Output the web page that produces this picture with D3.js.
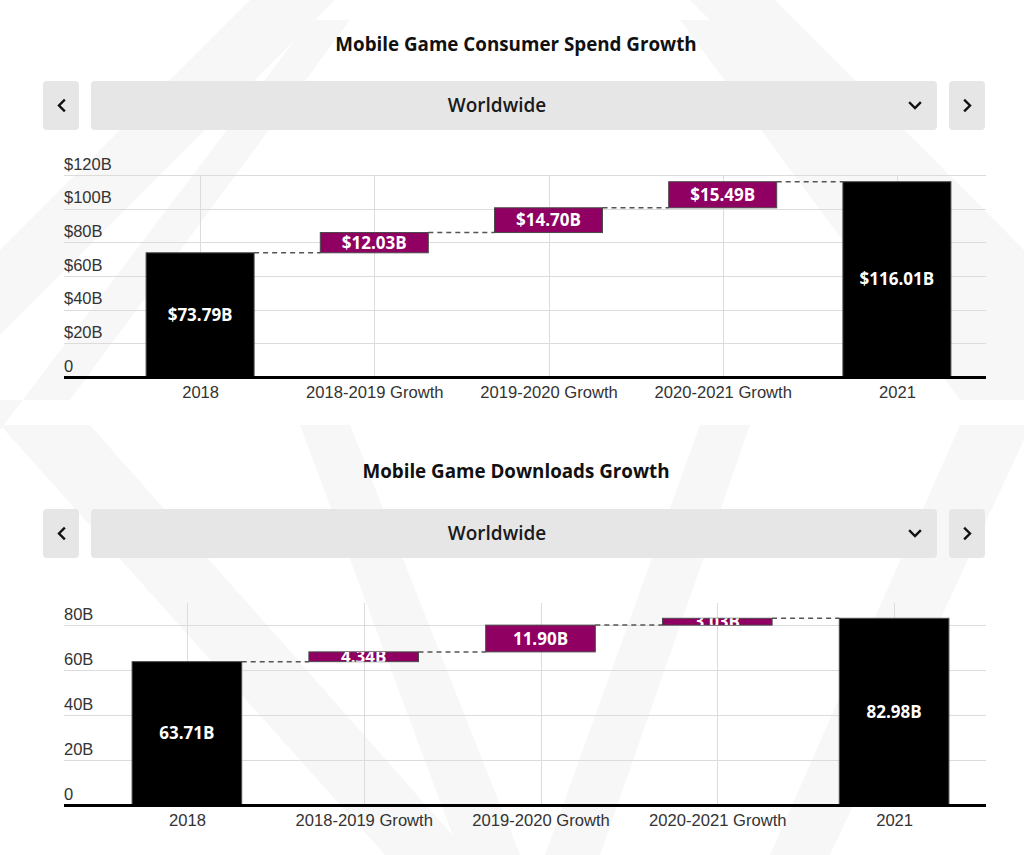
<!DOCTYPE html>
<html lang="en">
<head>
<meta charset="UTF-8">
<title>Mobile Game Growth</title>
<style>
  html, body { margin: 0; padding: 0; background: #fff; }
  svg { display: block; font-family: "Open Sans", Lato, sans-serif; }
  .axis .domain { display: none; }
  .grid line { stroke: #dcdcdc; shape-rendering: crispEdges; }
  .ylab text { fill: #333; font-size: 16.5px; }
  .xlab text { fill: #333; font-size: 16.6px; }
  .title { font-size: 18.8px; font-weight: 700; fill: #111; text-anchor: middle; }
  .region { font-size: 19px; font-weight: 600; fill: #1a1a1a; text-anchor: middle; }
  .btn { fill: #e6e6e6; }
  .barLabel { fill: #fff; font-size: 17px; font-weight: 700; text-anchor: middle; }
</style>
</head>
<body>
<div id="chart"></div>
<script src="https://d3js.org/d3.v7.min.js"></script>
<script>
// data
var categories = ["2018", "2018-2019 Growth", "2019-2020 Growth", "2020-2021 Growth", "2021"];
var barKinds = ["total", "delta", "delta", "delta", "total"];
var spendValues = [73.79, 12.03, 14.70, 15.49, 116.01];
var downloadValues = [63.71, 4.34, 11.90, 3.03, 82.98];
var spendTicks = [0, 20, 40, 60, 80, 100, 120];
var downloadTicks = [0, 20, 40, 60, 80];
var spendTitle = "Mobile Game Consumer Spend Growth";
var downloadTitle = "Mobile Game Downloads Growth";
var regionName = "Worldwide";

var width = 1024, height = 855;
var purple = "#8f0062";

var svg = d3.select("#chart").append("svg")
    .attr("width", width)
    .attr("height", height);

// faint logo watermark in the background
var wm = svg.append("g").attr("fill", "#f7f7f7");
var shapes = [
    [[0, 250], [250, 0], [335, 0], [0, 335]],
    [[0, 430], [310, 20], [350, 20], [70, 400], [0, 400]],
    [[690, 0], [775, 0], [1024, 250], [1024, 335]],
    [[680, 20], [720, 20], [1024, 330], [1024, 400], [960, 400]],
    [[0, 425], [90, 425], [470, 855], [385, 855]],
    [[300, 425], [350, 425], [520, 855], [460, 855]],
    [[700, 425], [750, 425], [600, 855], [545, 855]],
    [[960, 425], [1024, 425], [1024, 440], [830, 855], [770, 855]]
];
wm.selectAll("polygon").data(shapes).enter().append("polygon")
    .attr("points", function(d) { return d.map(function(p) { return p.join(","); }).join(" "); });

function drawWaterfall(cfg) {
    var g = svg.append("g");

    // title
    g.append("text").attr("class", "title")
        .attr("x", 516).attr("y", cfg.titleY).attr("dy", "0.35em")
        .text(cfg.title);

    // selector row
    var cy = cfg.ctrlY, ch = 49;
    g.append("rect").attr("class", "btn").attr("x", 43).attr("y", cy).attr("width", 36).attr("height", ch).attr("rx", 4);
    g.append("rect").attr("class", "btn").attr("x", 91).attr("y", cy).attr("width", 846).attr("height", ch).attr("rx", 4);
    g.append("rect").attr("class", "btn").attr("x", 949).attr("y", cy).attr("width", 36).attr("height", ch).attr("rx", 4);
    g.append("text").attr("class", "region")
        .attr("x", 497).attr("y", cy + ch / 2).attr("dy", "0.35em")
        .text(regionName);
    var mid = cy + ch / 2;
    var chevron = g.append("g").attr("fill", "none").attr("stroke", "#111").attr("stroke-width", 2.4)
        .attr("stroke-linecap", "square");
    chevron.append("path").attr("d", "M" + 64 + "," + (mid - 5) + "L" + 59 + "," + mid + "L" + 64 + "," + (mid + 5));
    chevron.append("path").attr("d", "M" + 965 + "," + (mid - 5) + "L" + 970 + "," + mid + "L" + 965 + "," + (mid + 5));
    chevron.append("path").attr("d", "M" + 910 + "," + (mid - 2.5) + "L" + 915 + "," + (mid + 2.5) + "L" + 920 + "," + (mid - 2.5));

    // scales
    var x = d3.scalePoint().domain(categories).range(cfg.xRange).padding(0.5);
    var barW = x.step() * 0.62;
    var y = d3.scaleLinear().domain([0, cfg.yMax]).range([cfg.baseY, cfg.topY]);

    // waterfall bases
    var running = 0;
    var bars = cfg.values.map(function(v, i) {
        var lo, hi;
        if (barKinds[i] === "total") { lo = 0; hi = v; running = v; }
        else { lo = running; hi = running + v; running = hi; }
        return { cat: categories[i], kind: barKinds[i], value: v, lo: lo, hi: hi, i: i };
    });

    // horizontal grid + y labels
    var left = 64, right = 986;
    var yAxis = g.append("g").attr("class", "axis grid ylab")
        .attr("transform", "translate(" + left + ",0)")
        .call(d3.axisRight(y).tickValues(cfg.ticks).tickSize(right - left).tickFormat(cfg.tickFmt));
    yAxis.selectAll(".tick text")
        .attr("x", 0).attr("dy", -6).attr("text-anchor", "start");

    // vertical grid
    g.append("g").attr("class", "axis grid")
        .attr("transform", "translate(0," + cfg.baseY + ")")
        .call(d3.axisTop(x).tickSize(cfg.baseY - cfg.topY).tickFormat(""));

    // category labels
    g.append("g").attr("class", "axis xlab")
        .attr("transform", "translate(0," + cfg.baseY + ")")
        .call(d3.axisBottom(x).tickSize(0).tickPadding(9));

    // connectors
    g.append("g").selectAll("line").data(bars.slice(0, -1)).enter().append("line")
        .attr("x1", function(d) { return x(d.cat) + barW / 2; })
        .attr("x2", function(d) { return x(categories[d.i + 1]) - barW / 2; })
        .attr("y1", function(d) { return y(d.hi); })
        .attr("y2", function(d) { return y(d.hi); })
        .attr("stroke", "#555").attr("stroke-width", 1.5).attr("stroke-dasharray", "5,4");

    // bars
    var defs = svg.append("defs");
    bars.forEach(function(d) {
        defs.append("clipPath").attr("id", cfg.id + "-clip" + d.i)
            .append("rect")
            .attr("x", x(d.cat) - barW / 2).attr("y", y(d.hi))
            .attr("width", barW).attr("height", y(d.lo) - y(d.hi));
    });
    var bg = g.append("g");
    bg.selectAll("rect").data(bars).enter().append("rect")
        .attr("x", function(d) { return x(d.cat) - barW / 2; })
        .attr("y", function(d) { return y(d.hi); })
        .attr("width", barW)
        .attr("height", function(d) { return y(d.lo) - y(d.hi); })
        .attr("fill", function(d) { return d.kind === "total" ? "#000" : purple; })
        .attr("stroke", "#4a4a4a").attr("stroke-width", 1);
    bg.selectAll("text").data(bars).enter().append("text")
        .attr("class", "barLabel")
        .attr("clip-path", function(d) { return "url(#" + cfg.id + "-clip" + d.i + ")"; })
        .attr("x", function(d) { return x(d.cat); })
        .attr("y", function(d) { return (y(d.lo) + y(d.hi)) / 2; })
        .attr("dy", "0.36em")
        .text(function(d) { return cfg.valueFmt(d.value); });

    // baseline
    g.append("line")
        .attr("x1", left).attr("x2", right)
        .attr("y1", y(0) + 0.5).attr("y2", y(0) + 0.5)
        .attr("stroke", "#000").attr("stroke-width", 3);
}

drawWaterfall({
    id: "spend", title: spendTitle, titleY: 44, ctrlY: 81,
    values: spendValues, ticks: spendTicks, yMax: 120,
    topY: 175, baseY: 377, xRange: [113, 984],
    tickFmt: function(d) { return d === 0 ? "0" : "$" + d + "B"; },
    valueFmt: function(d) { return "$" + d.toFixed(2) + "B"; }
});

drawWaterfall({
    id: "dl", title: downloadTitle, titleY: 471, ctrlY: 509,
    values: downloadValues, ticks: downloadTicks, yMax: 90,
    topY: 602.5, baseY: 805, xRange: [98.5, 982.5],
    tickFmt: function(d) { return d === 0 ? "0" : d + "B"; },
    valueFmt: function(d) { return d.toFixed(2) + "B"; }
});
</script>
</body>
</html>
